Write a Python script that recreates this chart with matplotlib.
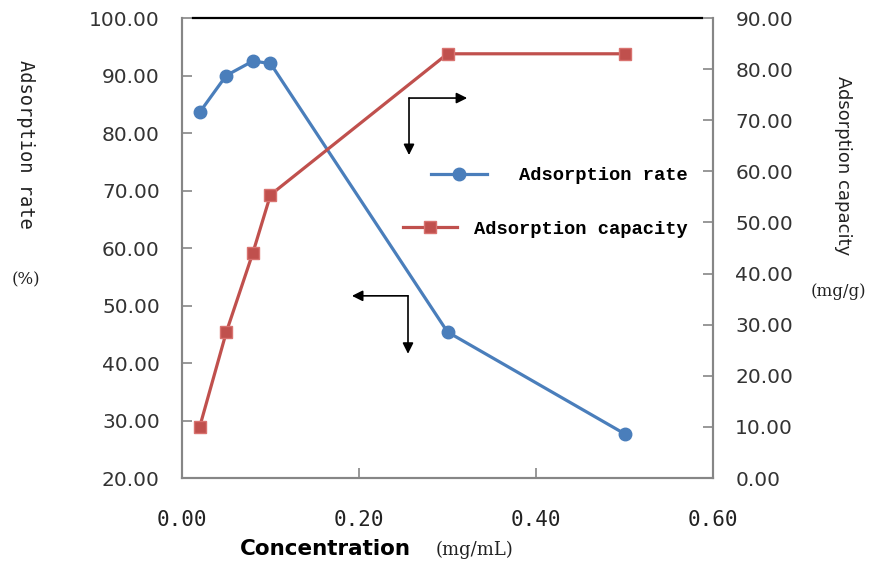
import matplotlib.pyplot as plt

# concentration (mg/mL)
conc = [0.02, 0.05, 0.08, 0.10, 0.30, 0.50]
# adsorption rate (%) - left axis
rate = [83.6, 90.0, 92.5, 92.1, 45.4, 27.7]
# adsorption capacity (mg/g) - right axis
capacity = [10.0, 28.5, 44.0, 55.4, 83.0, 83.0]

x_ticks = [0.0, 0.2, 0.4, 0.6]
left_ticks = list(range(20, 101, 10))
right_ticks = list(range(0, 91, 10))

blue = '#4a7ebb'
red = '#c0504d'
grey = '#868686'

fig = plt.figure(figsize=(8.72, 5.7), dpi=100)
ax = fig.add_axes([0.2087, 0.1614, 0.6090, 0.8070])
ax2 = ax.twinx()

ax.plot(conc, rate, color=blue, lw=2.3, marker='o', ms=9,
        mfc=blue, mec=blue, label='Adsorption rate', zorder=3)
ax2.plot(conc, capacity, color=red, lw=2.3, marker='s', ms=8.5,
         mfc=red, mec='#d9726f', label='Adsorption capacity', zorder=3)

ax.set_xlim(0, 0.6)
ax.set_ylim(20, 100)
ax2.set_ylim(0, 90)
ax.set_xticks(x_ticks)
ax.set_xticklabels([f'{v:.2f}' for v in x_ticks], family='DejaVu Sans Mono',
                   fontsize=15, color='#222222')
ax.set_yticks(left_ticks)
ax.set_yticklabels([f'{v:.2f}' for v in left_ticks], fontsize=14.5, color='#333333')
ax2.set_yticks(right_ticks)
ax2.set_yticklabels([f'{v:.2f}' for v in right_ticks], fontsize=14.5, color='#333333')

for a in (ax, ax2):
    for s in a.spines.values():
        s.set_color(grey)
        s.set_linewidth(1.5)
    a.spines['top'].set_visible(False)
ax.tick_params(axis='y', direction='in', length=7, width=1.2, color=grey, pad=16)
ax.tick_params(axis='x', direction='in', length=7, width=1.2, color=grey, pad=23)
ax2.tick_params(axis='y', direction='in', length=7, width=1.2, color=grey, pad=16)

# black line along the top
ax.plot([0.021, 0.979], [1, 1], color='black', lw=1.6,
        transform=ax.transAxes, clip_on=False)

# arrows showing which axis belongs to which curve
arrow = dict(arrowstyle='-|>', color='black', lw=1.2, mutation_scale=16,
             shrinkA=0, shrinkB=0)
ax2.annotate('', xy=(0.537, 0.826), xytext=(0.4275, 0.826),
             xycoords='axes fraction', arrowprops=arrow)
ax2.annotate('', xy=(0.4275, 0.702), xytext=(0.4275, 0.826),
             xycoords='axes fraction', arrowprops=arrow)
ax2.annotate('', xy=(0.320, 0.396), xytext=(0.4256, 0.396),
             xycoords='axes fraction', arrowprops=arrow)
ax2.annotate('', xy=(0.4256, 0.270), xytext=(0.4256, 0.396),
             xycoords='axes fraction', arrowprops=arrow)

lfont = {'family': 'Liberation Mono', 'weight': 'bold', 'size': 13.5}
h1, l1 = ax.get_legend_handles_labels()
h2, l2 = ax2.get_legend_handles_labels()
leg1 = ax2.legend(h1, l1, loc='center right', bbox_to_anchor=(0.953, 0.657),
                  frameon=False, prop=lfont, handlelength=3.0, handletextpad=1.7,
                  borderpad=0, borderaxespad=0)
ax2.add_artist(leg1)
ax2.legend(h2, l2, loc='center right', bbox_to_anchor=(0.953, 0.541),
           frameon=False, prop=lfont, handlelength=2.9, handletextpad=0.9,
           borderpad=0, borderaxespad=0)

fig.text(0.029, 0.746, 'Adsorption rate', rotation=-90, ha='center', va='center',
         family='DejaVu Sans Mono', fontsize=13.5, color='#222222')
fig.text(0.030, 0.509, '(%)', ha='center', va='center',
         family='DejaVu Serif', fontsize=12, color='#222222')
fig.text(0.967, 0.709, 'Adsorption capacity', rotation=-90, ha='center', va='center',
         fontsize=13, color='#222222')
fig.text(0.962, 0.488, '(mg/g)', ha='center', va='center',
         family='DejaVu Serif', fontsize=12, color='#222222')
fig.text(0.275, 0.037, 'Concentration', ha='left', va='center',
         fontsize=15.5, fontweight='bold', color='black')
fig.text(0.500, 0.035, '(mg/mL)', ha='left', va='center',
         family='DejaVu Serif', fontsize=13, color='#222222')

fig.savefig('out.png', dpi=100)
